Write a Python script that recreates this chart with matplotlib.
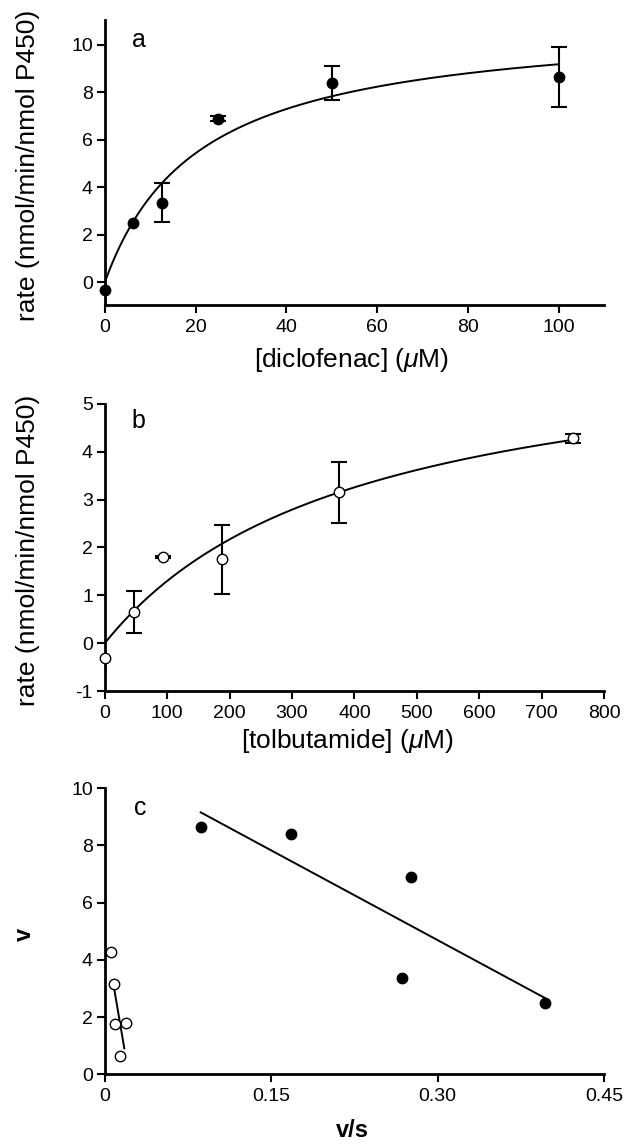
import numpy as np
import matplotlib.pyplot as plt

plt.rcParams['font.family'] = ['Liberation Sans', 'DejaVu Sans']
plt.rcParams['mathtext.fontset'] = 'custom'
plt.rcParams['mathtext.rm'] = 'Liberation Sans'
plt.rcParams['mathtext.it'] = 'Liberation Sans:italic'
plt.rcParams['axes.unicode_minus'] = False

# a: diclofenac
dic_conc = [0, 6.25, 12.5, 25, 50, 100]
dic_rate = [-0.3, 2.5, 3.35, 6.9, 8.4, 8.65]
dic_err = [0, 0, 0.82, 0.1, 0.7, 1.25]
dic_vmax, dic_km = 11.1, 20.8

# b: tolbutamide
tol_conc = [0, 46.9, 93.75, 187.5, 375, 750]
tol_rate = [-0.32, 0.65, 1.8, 1.75, 3.15, 4.28]
tol_err = [0, 0.44, 0.03, 0.73, 0.63, 0.1]
tol_vmax, tol_km = 6.53, 402

# c: Eadie-Hofstee
dic_vs = [0.0865, 0.168, 0.276, 0.268, 0.397]
dic_v = [8.65, 8.4, 6.9, 3.35, 2.5]
dic_line = (10.96, -20.9, 0.0865, 0.397)   # intercept, slope, x from, x to
tol_vs = [0.0057, 0.0085, 0.0090, 0.0190, 0.0140]
tol_v = [4.28, 3.17, 1.75, 1.80, 0.65]
tol_line = (4.92, -228, 0.0079, 0.0176)

fig = plt.figure(figsize=(6.26, 11.45), dpi=100)
axa = fig.add_axes([0.1674, 0.7336, 0.7974, 0.2489])
axb = fig.add_axes([0.1674, 0.3965, 0.7974, 0.2507])
axc = fig.add_axes([0.1674, 0.0617, 0.7974, 0.2500])

for ax in (axa, axb, axc):
    for s in ('top', 'right'):
        ax.spines[s].set_visible(False)
    for s in ('left', 'bottom'):
        ax.spines[s].set_linewidth(2.0)
    ax.tick_params(direction='out', length=6, width=1.5, labelsize=14)
    ax.tick_params(axis='y', pad=2.5)
    ax.tick_params(axis='x', pad=4)


def draw_errors(ax, x, y, err):
    x, y, err = np.array(x), np.array(y), np.array(err)
    m = err > 0
    ax.errorbar(x[m], y[m], yerr=err[m], fmt='none', ecolor='black', elinewidth=1.5,
                capsize=6, capthick=1.5, zorder=3, clip_on=False)


# panel a
s = np.linspace(0, dic_conc[-1], 300)
axa.plot(s, dic_vmax * s / (dic_km + s), color='black', lw=1.4, zorder=2)
draw_errors(axa, dic_conc, dic_rate, dic_err)
axa.plot(dic_conc, dic_rate, 'o', color='black', ms=7.5, zorder=4, clip_on=False)
axa.set_xlim(0, 110)
axa.set_ylim(-0.95, 11.05)
axa.set_xticks([0, 20, 40, 60, 80, 100])
axa.set_yticks([0, 2, 4, 6, 8, 10])
axa.set_ylabel('rate (nmol/min/nmol P450)', fontsize=19)
axa.yaxis.set_label_coords(-0.13, 0.49)
axa.set_xlabel(r'[diclofenac] ($\mu$M)', fontsize=19)
axa.xaxis.set_label_coords(0.495, -0.145)
axa.text(0.054, 0.93, 'a', transform=axa.transAxes, fontsize=18, va='center', ha='left')

# panel b
s = np.linspace(0, tol_conc[-1], 300)
axb.plot(s, tol_vmax * s / (tol_km + s), color='black', lw=1.4, zorder=2)
draw_errors(axb, tol_conc, tol_rate, tol_err)
axb.plot(tol_conc, tol_rate, 'o', mfc='white', mec='black', mew=1.0, ms=7.5, zorder=4, clip_on=False)
axb.set_xlim(0, 800)
axb.set_ylim(-1, 5)
axb.set_xticks(np.arange(0, 801, 100))
axb.set_yticks([-1, 0, 1, 2, 3, 4, 5])
axb.set_ylabel('rate (nmol/min/nmol P450)', fontsize=19)
axb.yaxis.set_label_coords(-0.13, 0.49)
axb.set_xlabel(r'[tolbutamide] ($\mu$M)', fontsize=19)
axb.xaxis.set_label_coords(0.487, -0.125)
axb.text(0.054, 0.94, 'b', transform=axb.transAxes, fontsize=18, va='center', ha='left')

# panel c
for (b0, b1, x0, x1) in (dic_line, tol_line):
    xs = np.array([x0, x1])
    axc.plot(xs, b0 + b1 * xs, color='black', lw=1.4, zorder=2)
axc.plot(dic_vs, dic_v, 'o', color='black', ms=7.5, zorder=4)
axc.plot(tol_vs, tol_v, 'o', mfc='white', mec='black', mew=1.0, ms=7.5, zorder=4)
axc.set_xlim(0, 0.45)
axc.set_ylim(0, 10)
axc.set_xticks([0, 0.15, 0.30, 0.45])
axc.set_xticklabels(['0', '0.15', '0.30', '0.45'])
axc.set_yticks([0, 2, 4, 6, 8, 10])
axc.set_ylabel('v', fontsize=17, fontweight='bold')
axc.yaxis.set_label_coords(-0.138, 0.49)
axc.set_xlabel('v/s', fontsize=17, fontweight='bold')
axc.xaxis.set_label_coords(0.497, -0.155)
axc.text(0.058, 0.93, 'c', transform=axc.transAxes, fontsize=18, va='center', ha='left')

plt.savefig('out.png', dpi=100)
